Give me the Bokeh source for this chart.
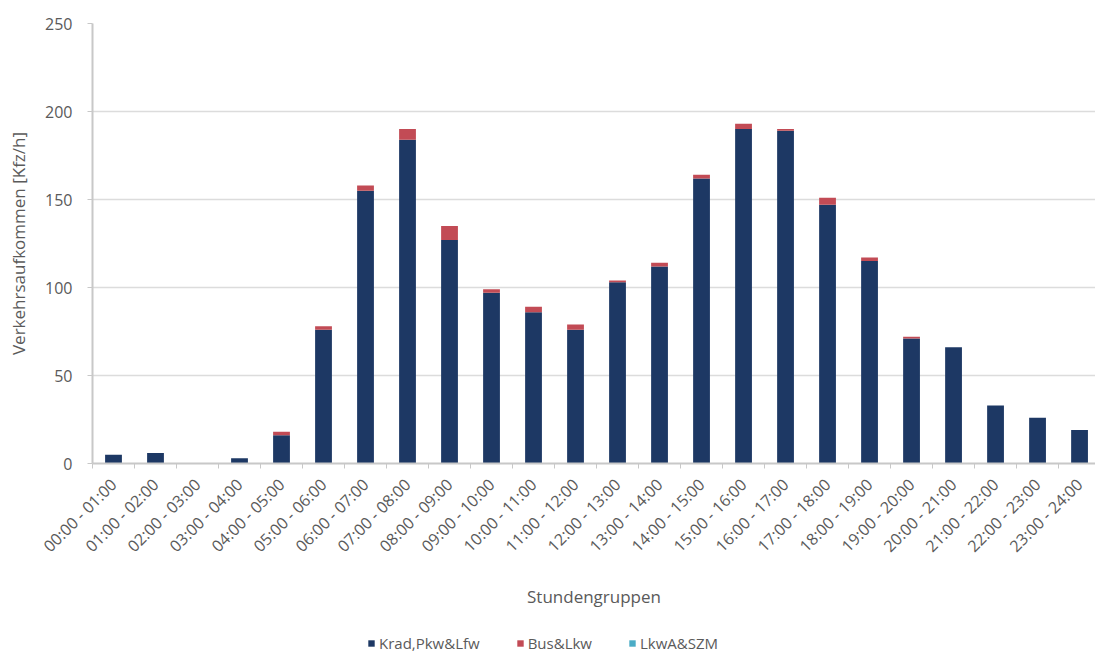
import math
from bokeh.plotting import figure
from bokeh.layouts import column
from bokeh.models import Range1d, FixedTicker, Legend, LegendItem
from bokeh.embed import file_html
from bokeh.resources import INLINE

# Hourly traffic volume by vehicle class
hours = ["00:00 - 01:00", "01:00 - 02:00", "02:00 - 03:00", "03:00 - 04:00",
         "04:00 - 05:00", "05:00 - 06:00", "06:00 - 07:00", "07:00 - 08:00",
         "08:00 - 09:00", "09:00 - 10:00", "10:00 - 11:00", "11:00 - 12:00",
         "12:00 - 13:00", "13:00 - 14:00", "14:00 - 15:00", "15:00 - 16:00",
         "16:00 - 17:00", "17:00 - 18:00", "18:00 - 19:00", "19:00 - 20:00",
         "20:00 - 21:00", "21:00 - 22:00", "22:00 - 23:00", "23:00 - 24:00"]
krad_pkw_lfw = [5, 6, 0, 3, 16, 76, 155, 184, 127, 97, 86, 76,
                103, 112, 162, 190, 189, 147, 115, 71, 66, 33, 26, 19]
bus_lkw = [0, 0, 0, 0, 2, 2, 3, 6, 8, 2, 3, 3,
           1, 2, 2, 3, 1, 4, 2, 1, 0, 0, 0, 0]
lkwa_szm = [0, 0, 0, 0, 0, 0, 0, 0, 0, 0, 0, 0,
            0, 0, 0, 0, 0, 0, 0, 0, 0, 0, 0, 0]
series_names = ["Krad,Pkw&Lfw", "Bus&Lkw", "LkwA&SZM"]
y_ticks = [0, 50, 100, 150, 200, 250]

colors = ["#1D3864", "#C24B55", "#4BACC6"]
font = "Open Sans"
text_color = "#5A5A5A"
axis_grey = "#C8C8C8"

x = list(range(len(hours)))
source = dict(x=x, k=krad_pkw_lfw, b=bus_lkw, l=lkwa_szm)

p = figure(frame_width=1003, frame_height=440, output_backend="svg", toolbar_location=None,
           x_range=Range1d(-0.5, 23.38), y_range=Range1d(0, 250),
           min_border_left=92, min_border_right=0, min_border_top=23,
           min_border_bottom=160)
p.outline_line_color = None
p.background_fill_color = "white"
p.border_fill_color = "white"

p.vbar_stack(["k", "b", "l"], x="x", width=0.4, color=colors,
             line_color=None, source=source)

# y axis
p.yaxis.ticker = FixedTicker(ticks=y_ticks)
p.yaxis.axis_label = "Verkehrsaufkommen [Kfz/h]"
p.yaxis.axis_label_text_font = font
p.yaxis.axis_label_text_font_size = "17px"
p.yaxis.axis_label_text_font_style = "normal"
p.yaxis.axis_label_text_color = text_color
p.yaxis.axis_label_standoff = 12
p.yaxis.major_label_text_font = font
p.yaxis.major_label_text_font_size = "16px"
p.yaxis.major_label_text_color = text_color
p.yaxis.axis_line_color = axis_grey
p.yaxis.axis_line_width = 2
p.yaxis.major_tick_line_color = axis_grey
p.yaxis.major_tick_out = 5
p.yaxis.major_tick_in = 0
p.yaxis.minor_tick_line_color = None
p.yaxis.major_label_standoff = 15

# x axis: labels at category centres, ticks between categories
p.xaxis.ticker = FixedTicker(ticks=x, minor_ticks=[i - 0.5 for i in range(len(hours) + 1)])
p.xaxis.major_label_overrides = {i: h for i, h in enumerate(hours)}
p.xaxis.major_label_orientation = math.pi / 4
p.xaxis.major_label_text_font = font
p.xaxis.major_label_text_font_size = "16px"
p.xaxis.major_label_text_color = text_color
p.xaxis.major_tick_line_color = None
p.xaxis.minor_tick_line_color = axis_grey
p.xaxis.minor_tick_out = 5
p.xaxis.minor_tick_in = 0
p.xaxis.axis_line_color = axis_grey
p.xaxis.axis_line_width = 2
p.xaxis.major_label_standoff = 12
p.xaxis.axis_label = "Stundengruppen"
p.xaxis.axis_label_text_font = font
p.xaxis.axis_label_text_font_size = "17px"
p.xaxis.axis_label_text_font_style = "normal"
p.xaxis.axis_label_text_color = text_color
p.xaxis.axis_label_standoff = 18

p.xgrid.grid_line_color = None
p.ygrid.grid_line_color = "#DCDCDC"
p.ygrid.grid_line_width = 1.5

# Legend strip: the same stacked series, with the view range kept off the bars
lg = figure(width=1095, height=30, output_backend="svg", toolbar_location=None,
            x_range=Range1d(-200, -199), y_range=Range1d(0, 1),
            min_border=0, x_axis_type=None, y_axis_type=None)
lg.outline_line_color = None
lg.grid.visible = False
lg_renderers = lg.vbar_stack(["k", "b", "l"], x="x", width=0.4, color=colors,
                             line_color=None, source=source)
legend = Legend(items=[LegendItem(label=n, renderers=[r]) for n, r in zip(series_names, lg_renderers)],
                orientation="horizontal", location=(275, 0),
                label_text_font=font, label_text_font_size="15px",
                label_text_color=text_color, glyph_width=8, glyph_height=8,
                spacing=36, label_standoff=4, border_line_color=None,
                background_fill_alpha=0, padding=2, margin=0)
lg.add_layout(legend, "center")

layout = column(p, lg, spacing=0)
open("out.html", "w").write(file_html(layout, INLINE))
